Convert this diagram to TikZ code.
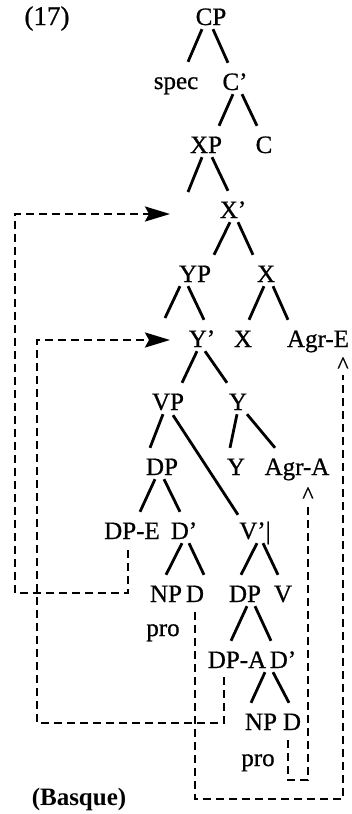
\documentclass[tikz,border=0pt]{standalone}
\usepackage{fontspec}
\setmainfont{Liberation Serif}
\newfontfamily\treefont{Liberation Serif}[FakeBold=0.7]
\usetikzlibrary{arrows.meta,calc}
\newcommand\tbranch[4]{\draw[branch] ([shift={(#2,4)}]#1.south) -- ([shift={(#4,-10)}]#3.north);}
\begin{document}
\begin{tikzpicture}[x=1pt,y=-1pt,
  tn/.style={inner sep=0pt, anchor=base, text height=17pt, text depth=0pt, font=\fontsize{25}{25}\treefont},
  lbl/.style={inner sep=0pt, anchor=base, font=\fontsize{25}{25}\treefont},
  hat/.style={inner sep=0pt, anchor=base, font=\fontsize{24}{24}\treefont},
  branch/.style={line width=2.8pt},
  mv/.style={line width=2.5pt, dash pattern=on 8pt off 5pt},
  mvarrow/.style={mv, -{Stealth[length=25pt,width=15pt,inset=4pt]}}
]
\fill[white] (0,0) rectangle (351,814);
\useasboundingbox (0,0) rectangle (351,814);

% labels
\node[lbl,font=\fontsize{27}{27}\treefont] (ex) at (47,25) {(17)};
\node[lbl,font=\fontsize{25}{25}\selectfont\bfseries] (basque) at (79,805) {(Basque)};

% tree nodes
\node[tn] (CP) at (211,25) {CP};
\node[tn] (spec) at (176,89) {spec};
\node[tn] (C1) at (235,90) {C’};
\node[tn] (XP) at (206,153) {XP};
\node[tn] (C) at (264,153) {C};
\node[tn] (X1) at (233,218) {X’};
\node[tn] (YP) at (195,282) {YP};
\node[tn] (X0) at (266,282) {X};
\node[tn] (Y1) at (202,347) {Y’};
\node[tn] (X00) at (243,347) {X};
\node[tn] (AgrE) at (318,347) {Agr-E};
\node[tn] (VP) at (168,410) {VP};
\node[tn] (Y0) at (238,410) {Y};
\node[tn] (DP) at (162,475) {DP};
\node[tn] (Y00) at (236,475) {Y};
\node[tn] (AgrA) at (297,475) {Agr-A};
\node[tn] (DPE) at (132,539) {DP-E};
\node[tn] (D1a) at (184,539) {D’};
\node[tn] (V1) at (255,539) {V’|};
\node[tn] (NPa) at (166,602) {NP};
\node[tn] (Da) at (195,602) {D};
\node[tn] (DPb) at (245,602) {DP};
\node[tn] (V0) at (283,602) {V};
\node[lbl] (proa) at (163,636) {pro};
\node[tn] (DPA) at (237,668) {DP-A};
\node[tn] (D1b) at (283,668) {D’};
\node[tn] (NPb) at (261,730) {NP};
\node[tn] (Db) at (292,730) {D};
\node[lbl] (prob) at (258,766) {pro};

% carets
\node[hat] (hatE) at (343,373) {\textasciicircum};
\node[hat] (hatA) at (308,503) {\textasciicircum};

% empty positions / corners
\coordinate (xspec) at (188,192);
\coordinate (yspec) at (165,318);
\coordinate (tipX) at (170,214);
\coordinate (tipY) at (170,340);
\coordinate (c1) at (15,593);
\coordinate (c2) at (37,723);
\coordinate (c3) at (343,799);
\coordinate (c4) at (308,780);

% branches
\tbranch{CP}{-9}{spec}{12}
\tbranch{CP}{2}{C1}{-7}
\tbranch{C1}{-2}{XP}{13}
\tbranch{C1}{7}{C}{-7}
\draw[branch] ([shift={(-4,4)}]XP.south) -- (xspec);
\tbranch{XP}{6}{X1}{-5}
\tbranch{X1}{-3}{YP}{19}
\tbranch{X1}{5}{X0}{-13}
\draw[branch] ([shift={(-15,4)}]YP.south) -- (yspec);
\tbranch{YP}{-7}{Y1}{2}
\tbranch{X0}{-2}{X00}{6}
\tbranch{X0}{7}{AgrE}{-30}
\tbranch{Y1}{-5}{VP}{14}
\tbranch{Y1}{3}{Y0}{-11}
\tbranch{VP}{-5}{DP}{-12}
\draw[branch] ([shift={(5,5)}]VP.south) -- ([shift={(-17,-7)}]V1.north);
\tbranch{Y0}{-1}{Y00}{-6}
\tbranch{Y0}{9}{AgrA}{-22}
\tbranch{DP}{-7}{DPE}{8}
\tbranch{DP}{2}{D1a}{-4}
\tbranch{D1a}{-2}{NPa}{0}
\tbranch{D1a}{5}{Da}{9}
\tbranch{V1}{2}{DPb}{-4}
\tbranch{V1}{8}{V0}{-5}
\tbranch{DPb}{2}{DPA}{-6}
\tbranch{DPb}{10}{D1b}{-12}
\tbranch{D1b}{-18}{NPb}{-10}
\tbranch{D1b}{-10}{Db}{-3}

% movement paths
\draw[mvarrow] ([shift={(-4,11)}]DPE.south) |- (c1) |- (tipX);
\draw[mvarrow] ([shift={(-13,9)}]DPA.south) |- (c2) |- (tipY);
\draw[mv, shorten >=2pt] ([shift={(0,10)}]Da.south) |- (c3) -- (hatE);
\draw[mv, shorten >=2pt] ([shift={(-4,10)}]Db.south) |- (c4) -- (hatA);
\end{tikzpicture}
\end{document}
